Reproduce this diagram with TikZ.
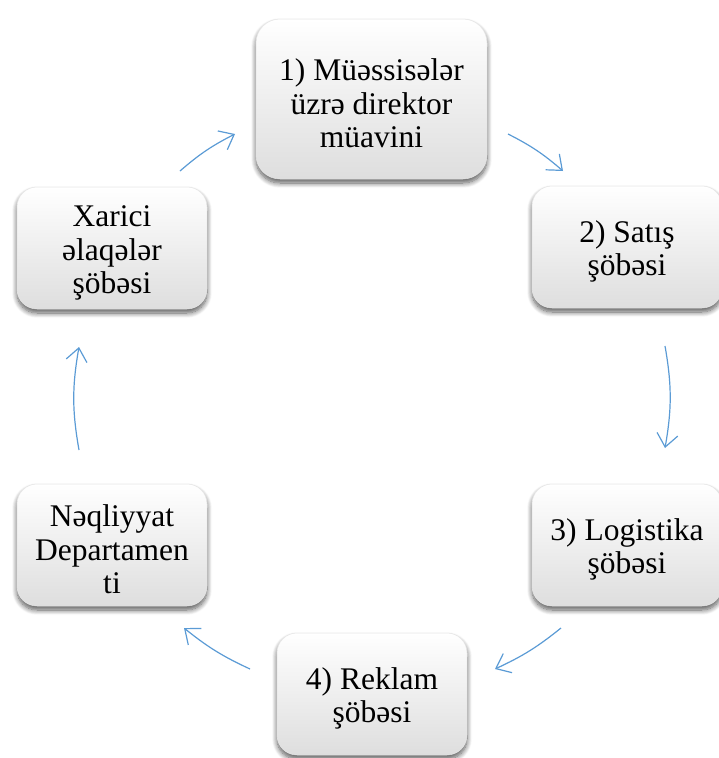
\documentclass[tikz,border=0pt]{standalone}
\usepackage{fontspec}
\setmainfont{Liberation Serif}
\usetikzlibrary{arrows.meta,shadows.blur}
\definecolor{arrowblue}{HTML}{5B9BD5}
\newcommand\liftline{\rule{0pt}{31pt}}
\tikzset{
  box/.style={rounded corners=20pt, minimum width=190pt, minimum height=122pt,
    top color=white, bottom color=black!13, draw=black!10, line width=0.5pt,
    align=center, inner sep=0pt,
    font=\fontsize{31.5}{33.5}\selectfont,
    blur shadow={shadow xshift=0pt, shadow yshift=-4pt, shadow blur radius=5pt, shadow blur steps=10, shadow opacity=65}},
  bigbox/.style={box, rounded corners=24pt, minimum width=231pt, minimum height=160pt},
  flow/.style={draw=arrowblue, line width=1.2pt, -{Straight Barb[length=13pt,width=21pt,line width=1.2pt]}}
}
\begin{document}
\begin{tikzpicture}[x=1pt,y=-1pt]
\useasboundingbox (0,0) rectangle (719,758);
\node[bigbox] (n1) at (371.5,99) {\liftline 1) Müəssisələr\\üzrə direktor\\müavini};
\node[box] (n2) at (627,247) {\liftline 2) Satış\\şöbəsi};
\node[box] (n3) at (627,545) {\liftline 3) Logistika\\şöbəsi};
\node[box] (n4) at (372,694) {\liftline 4) Reklam\\şöbəsi};
\node[box] (n5) at (112,545) {\liftline Nəqliyyat\\Departamen\\ti};
\node[box] (n6) at (112,248) {\liftline Xarici\\əlaqələr\\şöbəsi};
\coordinate (a1s) at (180,171); \coordinate (a1e) at (235,134);
\coordinate (a2s) at (508,134); \coordinate (a2e) at (563,171);
\coordinate (a3s) at (665,346); \coordinate (a3e) at (665,448);
\coordinate (a4s) at (561,628); \coordinate (a4e) at (495,669);
\coordinate (a5s) at (250,669); \coordinate (a5e) at (184,628);
\coordinate (a6s) at (79,450); \coordinate (a6e) at (79,347);
\draw[flow] (a1s) to[bend left=7] (a1e);
\draw[flow] (a2s) to[bend left=7] (a2e);
\draw[flow] (a3s) to[bend left=10] (a3e);
\draw[flow] (a4s) to[bend left=7] (a4e);
\draw[flow] (a5s) to[bend left=7] (a5e);
\draw[flow] (a6s) to[bend left=10] (a6e);
\end{tikzpicture}
\end{document}
